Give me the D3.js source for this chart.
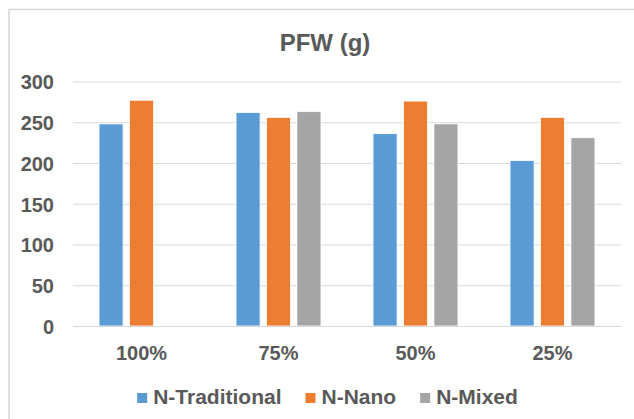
<!DOCTYPE html>
<html>
<head>
<meta charset="utf-8">
<script src="https://cdn.jsdelivr.net/npm/d3@7"></script>
<style>
  body { margin: 0; background: #fff; }
  text { font-family: "Liberation Sans", Arial, sans-serif; font-weight: bold; fill: #595959; }
</style>
</head>
<body>
<div id="chart"></div>
<script>
const categories = ['100%', '75%', '50%', '25%'];
const seriesNames = ['N-Traditional', 'N-Nano', 'N-Mixed'];
const traditional = [248, 262, 236, 203];
const nano = [277, 256, 276, 256];
const mixed = [null, 263, 248, 231];
const yTicks = [0, 50, 100, 150, 200, 250, 300];
const colors = ['#5B9BD5', '#ED7D31', '#A5A5A5'];

const width = 634, height = 419;
const margin = {left: 73, right: 13, top: 81.5, bottom: 93};

const svg = d3.select('#chart').append('svg')
	.attr('width', width)
	.attr('height', height);

// chart border (runs off the right and bottom edge)
svg.append('rect')
	.attr('x', 9).attr('y', 9.5)
	.attr('width', 640).attr('height', 420)
	.attr('fill', '#fff')
	.attr('stroke', '#D9D9D9')
	.attr('stroke-width', 1.6);

svg.append('text')
	.attr('x', 325).attr('y', 51)
	.attr('text-anchor', 'middle')
	.style('font-size', '24px')
	.text('PFW (g)');

let x0 = d3.scaleBand()
	.domain(categories)
	.range([margin.left, width - margin.right])
	.paddingInner(0.38)
	.paddingOuter(0.19);

let x1 = d3.scaleBand()
	.domain(seriesNames)
	.range([0, x0.bandwidth()])
	.paddingInner(0.21);

let y = d3.scaleLinear()
	.domain([0, 300])
	.range([height - margin.bottom, margin.top]);

// gridlines
svg.append('g')
	.attr('class', 'grid')
	.attr('transform', `translate(${margin.left},0)`)
	.call(d3.axisLeft(y).tickValues(yTicks).tickSize(-(width - margin.left - margin.right)).tickFormat(''))
	.call(g => g.select('.domain').remove())
	.call(g => g.selectAll('line').attr('stroke', '#D9D9D9').attr('stroke-width', 1.2));

// y labels
svg.append('g')
	.attr('transform', `translate(${margin.left},1)`)
	.call(d3.axisLeft(y).tickValues(yTicks).tickSize(0).tickPadding(19))
	.call(g => g.select('.domain').remove())
	.call(g => g.selectAll('text')
		.attr('fill', '#595959')
		.style('font-family', '"Liberation Sans", Arial, sans-serif')
		.style('font-weight', 'bold')
		.style('font-size', '20px'));

const series = [traditional, nano, mixed];

let groups = svg.append('g').selectAll('g')
	.data(categories)
	.enter()
	.append('g')
	.attr('transform', d => `translate(${x0(d)},0)`);

groups.selectAll('rect')
	.data((d, i) => seriesNames.map((s, j) => ({key: s, value: series[j][i], color: colors[j]})))
	.enter()
	.filter(d => d.value != null)
	.append('rect')
	.attr('x', d => x1(d.key))
	.attr('y', d => y(d.value))
	.attr('width', x1.bandwidth())
	.attr('height', d => y(0) - y(d.value))
	.attr('fill', d => d.color)
	.attr('stroke', '#fff')
	.attr('stroke-width', 0.8);

// x labels
svg.append('g')
	.attr('transform', `translate(0,${y(0)})`)
	.call(d3.axisBottom(x0).tickSize(0).tickPadding(20))
	.call(g => g.select('.domain').attr('stroke', '#D9D9D9').attr('stroke-width', 1.2))
	.call(g => g.selectAll('text')
		.attr('fill', '#595959')
		.style('font-family', '"Liberation Sans", Arial, sans-serif')
		.style('font-weight', 'bold')
		.style('font-size', '20px'));

// legend
let legend = svg.append('g');
let lx = 0;
seriesNames.forEach((name, i) => {
	let item = legend.append('g').attr('transform', `translate(${lx},0)`);
	item.append('rect')
		.attr('x', 0).attr('y', 393)
		.attr('width', 10).attr('height', 10)
		.attr('fill', colors[i]);
	let t = item.append('text')
		.attr('x', 16).attr('y', 404)
		.style('font-size', '21px')
		.text(name);
	lx += 16 + t.node().getComputedTextLength() + 24;
});
let legendWidth = lx - 24;
legend.attr('transform', `translate(${327.5 - legendWidth / 2},0)`);
</script>
</body>
</html>
